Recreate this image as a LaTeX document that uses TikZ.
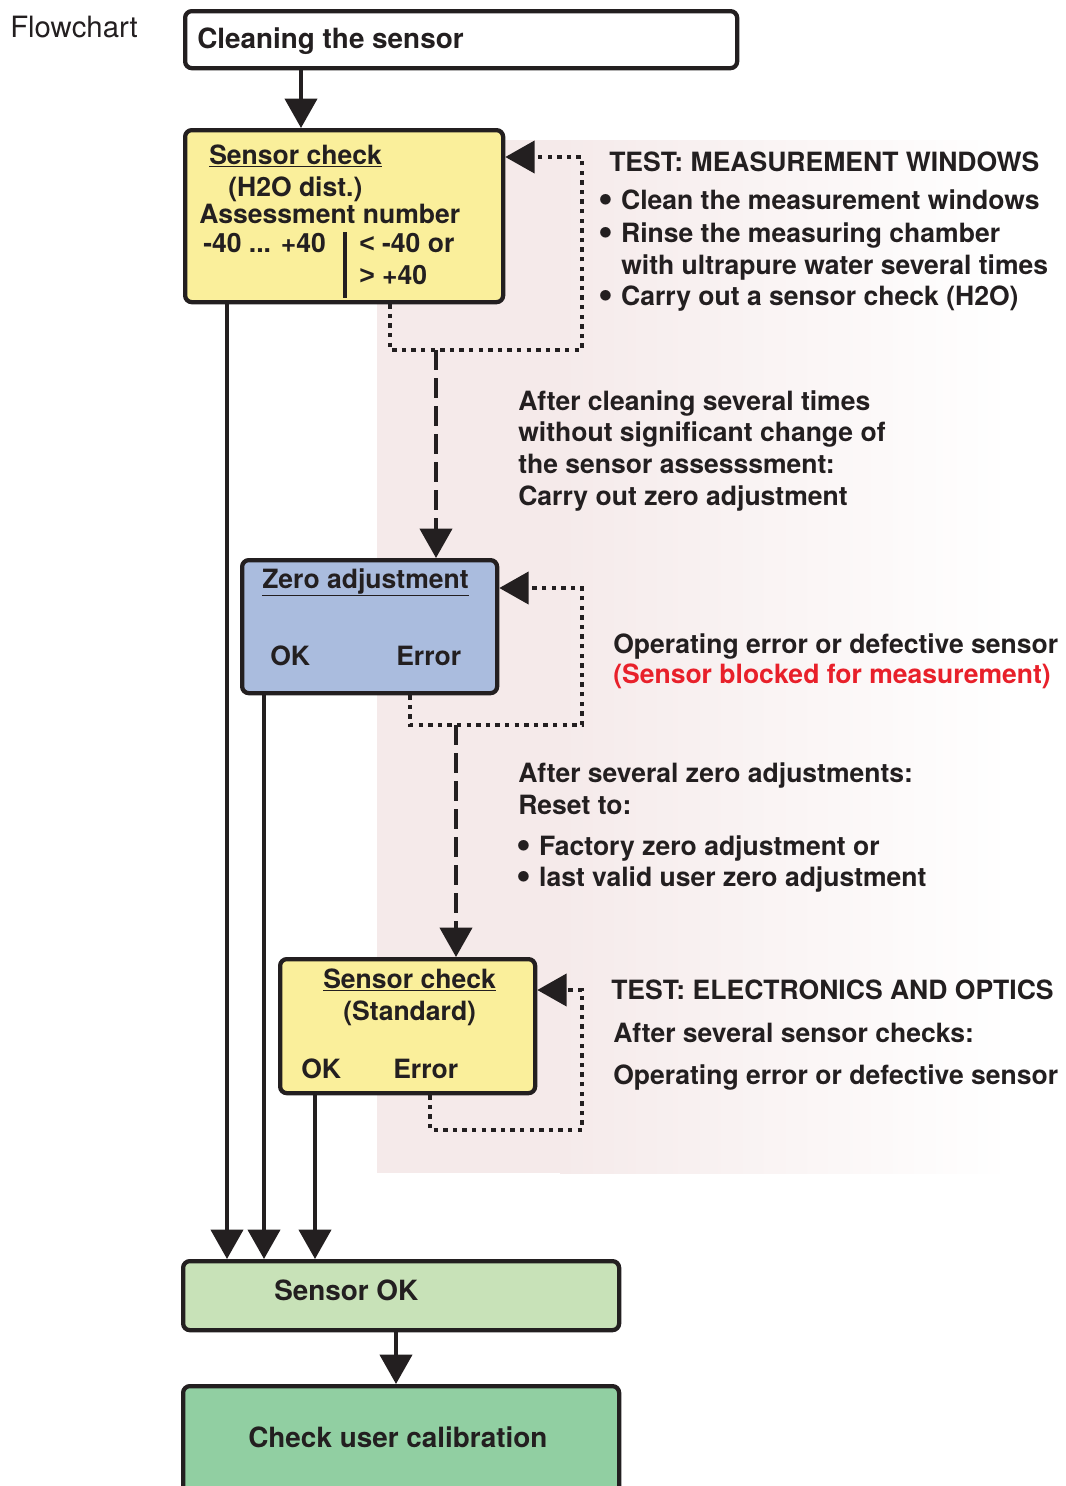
\documentclass[tikz,border=0pt]{standalone}
\usepackage{fontspec}
\setmainfont{TeX Gyre Heros}
\newfontfamily\libsans{Liberation Sans}
\usetikzlibrary{arrows.meta,positioning}
\definecolor{boxyellow}{RGB}{250,239,155}
\definecolor{boxblue}{RGB}{170,188,222}
\definecolor{boxlgreen}{RGB}{200,226,184}
\definecolor{boxgreen}{RGB}{145,207,162}
\definecolor{bgpink}{RGB}{245,234,234}
\definecolor{errred}{RGB}{232,32,42}
\definecolor{ink}{RGB}{35,31,32}
\newcommand{\blt}{\smash{\raisebox{-2.6pt}{\scalebox{1.6}{\textbullet}}}}

\begin{document}
\begin{tikzpicture}[x=0.75pt,y=-0.75pt,
	every node/.style={font=\fontsize{19.9}{24}\selectfont\bfseries,inner sep=0pt,text=ink},
	big/.style={font=\fontsize{20.9}{25}\selectfont\bfseries},
	box/.style={draw=ink,line width=3.2pt,rounded corners=5pt,anchor=north west},
	arr/.style={draw=ink,line width=3pt,-{Triangle[length=22pt,width=24pt]}},
	dotline/.style={arr,dash pattern=on 3.2pt off 4pt},
	dashline/.style={arr,dash pattern=on 15pt off 6pt},
	txt/.style={anchor=base west}]
	\useasboundingbox (0,0) rectangle (1066,1486);
	% shaded panel behind the notes
	\fill[bgpink] (377,140) rectangle (560,1173);
	\shade[left color=bgpink,right color=white] (560,140) rectangle (1010,1173);
	
	\node[txt,font=\fontsize{22}{26}\selectfont\mdseries] (title) at (10,37) {Flowchart};
	
	% boxes
	\node[box,fill=white,minimum width=414pt,minimum height=42.75pt] (clean) at (183,9) {};
	\node[txt,big] (cleantxt) at (197,48) {Cleaning the sensor};
	
	\node[box,fill=boxyellow,minimum width=238.5pt,minimum height=129pt] (check1) at (183,128) {};
	\node[txt] (c1a) at (209,164) {\underline{Sensor check}};
	\node[txt] (c1b) at (228,196) {(H2O dist.)};
	\node[txt] (c1c) at (199,223) {Assessment number};
	\node[txt] (c1d) at (203,252) {-40 ... +40};
	\node[txt] (c1e) at (359,252) {{\libsans <} -40 or};
	\node[txt] (c1f) at (359,284) {{\libsans >} +40};
	\draw[ink,line width=3pt] (345,232) -- (345,298);
	
	\node[box,fill=boxblue,minimum width=191.25pt,minimum height=99.75pt] (zero) at (240,558) {};
	\node[txt] (z1) at (262,588) {\underline{Zero adjustment}};
	\node[txt] (z2) at (270,665) {OK};
	\node[txt] (z3) at (396,665) {Error};
	
	\node[box,fill=boxyellow,minimum width=191.25pt,minimum height=100.5pt] (check2) at (278,957) {};
	\node[txt] (c2a) at (323,988) {\underline{Sensor check}};
	\node[txt] (c2b) at (343,1020) {(Standard)};
	\node[txt] (c2c) at (301,1078) {OK};
	\node[txt] (c2d) at (393,1078) {Error};
	
	\node[box,fill=boxlgreen,minimum width=327pt,minimum height=51.75pt] (ok) at (181,1259) {};
	\node[txt,big] (oktxt) at (274,1300) {Sensor OK};
	
	\node[box,fill=boxgreen,minimum width=327pt,minimum height=88.5pt] (calib) at (181,1384) {};
	\node[txt,big] (calibtxt) at (248,1447) {Check user calibration};
	
	% notes
	\node[txt] (n1) at (609,171) {TEST: MEASUREMENT WINDOWS};
	\foreach \y/\t in {209/Clean the measurement windows,242/Rinse the measuring chamber,305/Carry out a sensor check (H2O)}
		\node[txt] at (598,\y) {\blt\hspace{6pt}\t};
	\node[txt] (n1e) at (621,274) {with ultrapure water several times};
	\foreach \y/\t in {410/After cleaning several times,441/without significant change of,473/the sensor assesssment:,505/Carry out zero adjustment}
		\node[txt] at (518,\y) {\t};
	\node[txt] (n3) at (613,653) {Operating error or defective sensor};
	\node[txt,text=errred] (n3b) at (613,683) {(Sensor blocked for measurement)};
	\node[txt] (n4) at (518,782) {After several zero adjustments:};
	\node[txt] (n4a) at (518,814) {Reset to:};
	\node[txt] (n4b) at (516,855) {\blt\hspace{6pt}Factory zero adjustment or};
	\node[txt] (n4c) at (516,886) {\blt\hspace{6pt}last valid user zero adjustment};
	\node[txt] (n5) at (611,999) {TEST: ELECTRONICS AND OPTICS};
	\node[txt] (n5b) at (613,1042) {After several sensor checks:};
	\node[txt] (n5c) at (613,1084) {Operating error or defective sensor};
	
	% connectors
	\draw[arr] (clean.south -| 301,0) -- (check1.north -| 301,0);
	\draw[dotline] (check1.south -| 390,0) |- (582,350) |- (check1.east |- 0,157);
	\draw[dashline] (436,350) -- (zero.north -| 436,0);
	\draw[dotline] (zero.south -| 410,0) |- (582,725) |- (zero.east |- 0,588);
	\draw[dashline] (456,725) -- (check2.north -| 456,0);
	\draw[dotline] (check2.south -| 430,0) |- (582,1130) |- (check2.east |- 0,990);
	\draw[arr] (check1.south -| 227,0) -- (ok.north -| 227,0);
	\draw[arr] (zero.south -| 264,0) -- (ok.north -| 264,0);
	\draw[arr] (check2.south -| 315,0) -- (ok.north -| 315,0);
	\draw[arr] (ok.south -| 396,0) -- (calib.north -| 396,0);
\end{tikzpicture}
\end{document}
